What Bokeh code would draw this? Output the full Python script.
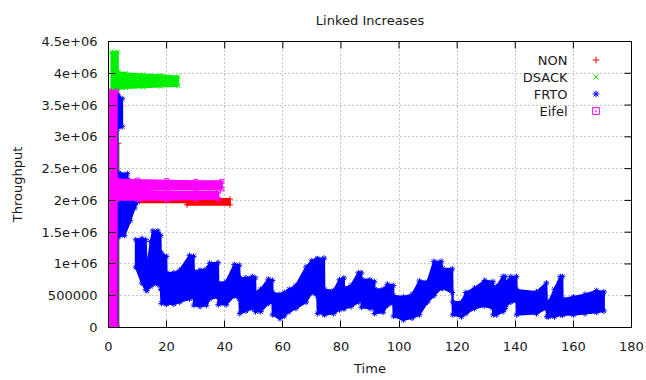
from bokeh.plotting import figure
from bokeh.models import Range1d, FixedTicker, Legend, LegendItem, Label
from bokeh.core.properties import value
from bokeh.embed import file_html
from bokeh.resources import INLINE

# ---------------- data ----------------
x_ticks = [0, 20, 40, 60, 80, 100, 120, 140, 160, 180]
y_ticks = [0, 500000, 1000000, 1500000, 2000000, 2500000, 3000000, 3500000, 4000000, 4500000]
y_tick_labels = ["0", "500000", "1e+06", "1.5e+06", "2e+06", "2.5e+06",
                 "3e+06", "3.5e+06", "4e+06", "4.5e+06"]

title_text = "Linked Increases"
series_names = ["NON", "DSACK", "FRTO", "Eifel"]

# NON: envelope (time, lowest, highest throughput) of the point cloud
non_x = [0.5, 3.4, 3.4, 10.0, 26.8, 27.0, 41.8]
non_lo = [0, 0, 1.96e6, 1.97e6, 1.97e6, 1.93e6, 1.93e6]
non_hi = [2.9e6, 2.9e6, 2.04e6, 2.04e6, 2.04e6, 2.02e6, 2.02e6]

# DSACK
dsack_x = [1.0, 3.2, 3.2, 6.0, 12.0, 18.0, 24.0]
dsack_lo = [0, 0, 3.75e6, 3.77e6, 3.78e6, 3.79e6, 3.80e6]
dsack_hi = [4.34e6, 4.34e6, 4.02e6, 4.00e6, 3.98e6, 3.97e6, 3.95e6]

# FRTO: start column, short band, wedge, then the long sawtooth
frto_start_x = [0.5, 3.1, 3.1, 4.7]
frto_start_lo = [0, 0, 3.13e6, 3.16e6]
frto_start_hi = [3.66e6, 3.66e6, 3.66e6, 3.60e6]

frto_mid_x = [3.6, 6.5]
frto_mid_lo = [2.34e6, 2.34e6]
frto_mid_hi = [2.43e6, 2.42e6]

frto_wedge_x = [3.6, 5.5, 7.5, 9.0, 10.0]
frto_wedge_lo = [1.43e6, 1.45e6, 1.68e6, 1.88e6, 1.98e6]
frto_wedge_hi = [2.04e6, 2.05e6, 2.05e6, 2.05e6, 2.04e6]

frto_saw_x = [9.4, 11.5, 12.8, 13.2, 14.5, 15.3, 17.0, 17.9, 18.0, 18.2, 19.9, 20.0,
              22.5, 24.5, 27.9, 29.3, 29.4, 31.5, 33.7, 34.8, 37.7, 37.8, 40.5, 43.3,
              45.0, 45.2, 47.3, 49.5, 50.5, 50.6, 52.4, 55.0, 56.4, 56.5, 59.0, 60.5,
              62.2, 64.5, 68.0, 70.0, 71.8, 72.0, 74.2, 74.3, 77.5, 79.5, 81.0, 81.1,
              83.5, 86.0, 87.0, 87.1, 90.0, 91.5, 91.6, 94.5, 96.0, 98.0, 98.1, 101.5,
              104.5, 107.0, 109.8, 112.0, 114.5, 115.0, 118.3, 118.5, 121.5, 123.0,
              126.0, 129.5, 132.3, 132.4, 133.5, 135.8, 136.5, 136.6, 138.5, 140.4,
              140.5, 147.3, 150.7, 150.9, 151.5, 153.5, 155.5, 156.2, 156.3, 160.0,
              164.0, 168.0, 170.5]
frto_saw_lo = [0.95e6, 0.70e6, 0.60e6, 0.58e6, 0.65e6, 0.68e6, 0.68e6, 0.66e6, 0.60e6, 0.38e6, 0.37e6, 0.37e6,
               0.37e6, 0.40e6, 0.45e6, 0.48e6, 0.35e6, 0.33e6, 0.35e6, 0.45e6, 0.48e6, 0.36e6, 0.36e6, 0.50e6,
               0.45e6, 0.22e6, 0.26e6, 0.30e6, 0.30e6, 0.25e6, 0.25e6, 0.38e6, 0.40e6, 0.20e6, 0.14e6, 0.18e6,
               0.25e6, 0.30e6, 0.40e6, 0.55e6, 0.50e6, 0.22e6, 0.22e6, 0.20e6, 0.22e6, 0.28e6, 0.30e6, 0.30e6,
               0.33e6, 0.40e6, 0.45e6, 0.32e6, 0.30e6, 0.30e6, 0.22e6, 0.24e6, 0.35e6, 0.38e6, 0.18e6, 0.12e6,
               0.15e6, 0.20e6, 0.40e6, 0.50e6, 0.62e6, 0.62e6, 0.55e6, 0.20e6, 0.17e6, 0.22e6,
               0.30e6, 0.34e6, 0.30e6, 0.20e6, 0.20e6, 0.25e6, 0.30e6, 0.33e6, 0.40e6, 0.42e6,
               0.20e6, 0.22e6, 0.30e6, 0.17e6, 0.17e6, 0.17e6, 0.20e6, 0.20e6, 0.20e6, 0.20e6,
               0.22e6, 0.24e6, 0.26e6]
frto_saw_hi = [1.38e6, 1.40e6, 1.38e6, 0.90e6, 1.35e6, 1.52e6, 1.52e6, 1.45e6, 1.17e6, 1.17e6, 1.12e6, 0.86e6,
               0.86e6, 0.90e6, 1.13e6, 1.12e6, 0.88e6, 0.90e6, 0.92e6, 1.01e6, 1.02e6, 0.70e6, 0.72e6, 0.99e6,
               0.98e6, 0.78e6, 0.78e6, 0.80e6, 0.78e6, 0.55e6, 0.60e6, 0.76e6, 0.74e6, 0.55e6, 0.52e6, 0.55e6,
               0.60e6, 0.66e6, 0.95e6, 1.05e6, 1.08e6, 1.08e6, 1.09e6, 0.60e6, 0.58e6, 0.75e6, 0.78e6, 0.62e6,
               0.66e6, 0.86e6, 0.86e6, 0.76e6, 0.75e6, 0.72e6, 0.60e6, 0.60e6, 0.68e6, 0.66e6, 0.50e6, 0.48e6,
               0.52e6, 0.73e6, 0.72e6, 1.04e6, 1.04e6, 0.93e6, 0.92e6, 0.40e6, 0.40e6, 0.55e6,
               0.62e6, 0.74e6, 0.72e6, 0.64e6, 0.64e6, 0.80e6, 0.80e6, 0.70e6, 0.80e6, 0.80e6,
               0.59e6, 0.56e6, 0.70e6, 0.35e6, 0.40e6, 0.60e6, 0.80e6, 0.80e6, 0.45e6, 0.48e6,
               0.52e6, 0.58e6, 0.56e6]

# Eifel: start column and two level bands
eifel_col_x = [0.3, 2.8]
eifel_col_lo = [0, 0]
eifel_col_hi = [3.72e6, 3.72e6]

eifel_a_x = [2.8, 10.0, 20.0, 30.0, 39.0]
eifel_a_lo = [2.18e6, 2.18e6, 2.18e6, 2.18e6, 2.18e6]
eifel_a_hi = [2.33e6, 2.32e6, 2.31e6, 2.30e6, 2.30e6]

eifel_b_x = [2.8, 10.0, 20.0, 30.0, 37.8]
eifel_b_lo = [2.01e6, 2.01e6, 2.01e6, 2.02e6, 2.02e6]
eifel_b_hi = [2.15e6, 2.15e6, 2.14e6, 2.14e6, 2.14e6]

# ---------------- styling ----------------
FONT = "DejaVu Sans"
TXT = "#1a1a1a"
colors = {"NON": "#ff0000", "DSACK": "#00f000", "FRTO": "#0000ff", "Eifel": "#ff00ff"}
markers = {"NON": "cross", "DSACK": "x", "FRTO": "asterisk", "Eifel": "square_dot"}
marker_sizes = {"NON": 6, "DSACK": 6, "FRTO": 6, "Eifel": 4}

X_MAX, Y_MAX = 180, 4500000
FRAME_W, FRAME_H = 523, 286
TICK_PX = 7

p = figure(width=646, height=380, output_backend="svg", toolbar_location=None,
           x_range=Range1d(0, X_MAX), y_range=Range1d(0, Y_MAX),
           min_border_left=108, min_border_right=15, min_border_top=41, min_border_bottom=53)

p.title.text = title_text
p.title.align = "center"
p.title.vertical_align = "top"
p.title.text_font = FONT
p.title.text_font_size = "13px"
p.title.text_font_style = "normal"
p.title.text_color = TXT
p.title.standoff = 24

p.outline_line_color = "black"
p.outline_line_width = 1
p.background_fill_color = "white"
p.border_fill_color = "white"

p.xaxis.ticker = FixedTicker(ticks=x_ticks)
p.yaxis.ticker = FixedTicker(ticks=y_ticks)
p.yaxis.major_label_overrides = {t: l for t, l in zip(y_ticks, y_tick_labels)}

for ax in (p.xaxis[0], p.yaxis[0]):
    ax.major_tick_in = TICK_PX
    ax.major_tick_out = 0
    ax.minor_tick_in = 0
    ax.minor_tick_out = 0
    ax.axis_line_color = "black"
    ax.major_tick_line_color = "black"
    ax.major_label_text_font = FONT
    ax.major_label_text_font_size = "13px"
    ax.major_label_text_color = TXT
    ax.axis_label_text_font = FONT
    ax.axis_label_text_font_size = "13px"
    ax.axis_label_text_font_style = "normal"
    ax.axis_label_text_color = TXT

p.xaxis.axis_label = "Time"
p.yaxis.axis_label = "Throughput"
p.xaxis.major_label_standoff = 14
p.xaxis.axis_label_standoff = 7
p.yaxis.major_label_standoff = 11
p.yaxis.axis_label_standoff = 13

p.grid.grid_line_color = "#8c8c8c"
p.grid.grid_line_dash = "1 3"
p.grid.grid_line_width = 1
p.xgrid.ticker = FixedTicker(ticks=x_ticks)
p.ygrid.ticker = FixedTicker(ticks=y_ticks)

# mirrored tick marks on top and right edges (gnuplot style), no labels
ty = TICK_PX * Y_MAX / FRAME_H
tx = TICK_PX * X_MAX / FRAME_W
p.segment(x0=x_ticks, x1=x_ticks, y0=[Y_MAX] * len(x_ticks), y1=[Y_MAX - ty] * len(x_ticks),
          line_color="black", line_width=1)
p.segment(x0=[X_MAX] * len(y_ticks), x1=[X_MAX - tx] * len(y_ticks), y0=y_ticks, y1=y_ticks,
          line_color="black", line_width=1)


def band(xs, lo, hi):
    return list(xs) + list(xs)[::-1], list(hi) + list(lo)[::-1]


pieces = {
    "NON": [(non_x, non_lo, non_hi)],
    "DSACK": [(dsack_x, dsack_lo, dsack_hi)],
    "FRTO": [(frto_start_x, frto_start_lo, frto_start_hi),
             (frto_mid_x, frto_mid_lo, frto_mid_hi),
             (frto_wedge_x, frto_wedge_lo, frto_wedge_hi),
             (frto_saw_x, frto_saw_lo, frto_saw_hi)],
    "Eifel": [(eifel_col_x, eifel_col_lo, eifel_col_hi),
              (eifel_a_x, eifel_a_lo, eifel_a_hi),
              (eifel_b_x, eifel_b_lo, eifel_b_hi)],
}

legend_renderers = {}
for name in series_names:
    c = colors[name]
    xs_list, ys_list, px, py = [], [], [], []
    for xs, lo, hi in pieces[name]:
        bx, by = band(xs, lo, hi)
        xs_list.append(bx)
        ys_list.append(by)
        px += list(xs) + list(xs)
        py += list(lo) + list(hi)
    p.patches(xs=xs_list, ys=ys_list, fill_color=c, line_color=c, line_width=2)
    r = p.scatter(x=px, y=py, marker=markers[name], size=marker_sizes[name], line_color=c,
                  fill_color=None, line_width=1)
    legend_renderers[name] = r

# legend: glyphs at the right, names right-aligned to their left (gnuplot key)
legend = Legend(items=[LegendItem(label=value(""), renderers=[legend_renderers[n]]) for n in series_names],
                location="top_right", border_line_color=None, background_fill_alpha=0,
                glyph_width=17, glyph_height=17, label_height=17, label_width=17,
                label_standoff=0, spacing=0, padding=0, margin=10)
p.add_layout(legend)

row_y = [267.5, 250.5, 233.5, 216.5]
for name, yy in zip(series_names, row_y):
    p.add_layout(Label(x=459, y=yy, x_units="screen", y_units="screen", text=name,
                       text_align="right", text_baseline="middle", text_font=FONT,
                       text_font_size="13px", text_color=TXT))

open("out.html", "w").write(file_html(p, INLINE))
